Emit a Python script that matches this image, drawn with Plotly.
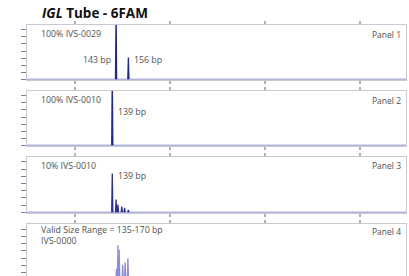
import plotly.graph_objects as go

# ---- data (bp sizes and relative peak heights) ----
panel_names = ["Panel 1", "Panel 2", "Panel 3", "Panel 4"]
sample_labels = ["100% IVS-0029", "100% IVS-0010", "10% IVS-0010", "Valid Size Range = 135-170 bp<br>IVS-0000"]
p1_bp = [143, 156]
p1_h = [1.3, 0.40]
p2_bp = [139]
p2_h = [1.3]
p3_bp = [139, 143, 145, 149, 152, 156]
p3_h = [0.70, 0.23, 0.14, 0.10, 0.08, 0.04]
p4_bp = [143.5, 145, 146.3, 150, 152.6, 155.5]
p4_h = [0.20, 0.62, 0.54, 0.27, 0.31, 0.39]
x_ticks = [100, 200, 300, 400]
x_range = [49, 449]

panels = [(p1_bp, p1_h), (p2_bp, p2_h), (p3_bp, p3_h), (p4_bp, p4_h)]
colors = ["#23278a", "#23278a", "#2a2e8f", "#8a8ed4"]
domains = [[0.781, 1.0], [0.518, 0.737], [0.251, 0.474], [0.0, 0.207]]
y_ranges = [[-0.015, 1.0], [-0.015, 1.0], [-0.015, 1.0], [0.071, 1.0]]


def spikes(bps, hs, w=0.6):
    xs, ys = [], []
    for b, h in sorted(zip(bps, hs)):
        xs += [b - w, b, b + w, None]
        ys += [0, h, 0, None]
    return xs, ys


FONT = "Open Sans, Lato, sans-serif"
fig = go.Figure()
border = "#c9c9d6"
for i, (bps, hs) in enumerate(panels):
    n = "" if i == 0 else str(i + 1)
    fig.add_trace(go.Scatter(x=x_range, y=[0, 0], mode="lines", line=dict(color="#8a90c8", width=1),
                             xaxis="x" + n, yaxis="y" + n, showlegend=False, hoverinfo="skip"))
    xs, ys = spikes(bps, hs)
    fig.add_trace(go.Scatter(x=xs, y=ys, mode="lines", line=dict(color=colors[i], width=1.3),
                             xaxis="x" + n, yaxis="y" + n, showlegend=False, hoverinfo="skip"))
    xa = dict(domain=[0, 1], range=x_range, anchor="y" + n, tickvals=x_ticks, showticklabels=False,
              ticks="outside", ticklen=3, tickwidth=2, tickcolor="#b0b0b8",
              showline=True, linecolor=border, linewidth=1, mirror="ticks" if i < 3 else False,
              side="bottom" if i < 3 else "top", showgrid=False, zeroline=False, fixedrange=True)
    ya = dict(domain=domains[i], range=y_ranges[i], anchor="x" + n, dtick=0.13, tick0=0.0,
              showticklabels=False, ticks="outside", ticklen=5, tickwidth=1, tickcolor="#80808c",
              showline=True, linecolor=border, linewidth=1, mirror=True,
              showgrid=False, zeroline=False, fixedrange=True)
    fig.layout["xaxis" + n] = xa
    fig.layout["yaxis" + n] = ya

    txt_font = dict(family=FONT, size=8.8, color="#505050")
    lab_y = [0.836, 0.836, 0.84, 0.77][i]
    fig.add_annotation(x=0.032, y=lab_y, xref=("x" + n + " domain"), yref=("y" + n + " domain"),
                       text=sample_labels[i], showarrow=False, xanchor="left", yanchor="middle",
                       align="left", font=txt_font)
    fig.add_annotation(x=0.992, y=[0.836, 0.836, 0.84, 0.865][i], xref=("x" + n + " domain"),
                       yref=("y" + n + " domain"), text=panel_names[i], showarrow=False,
                       xanchor="right", yanchor="middle", font=dict(family=FONT, size=8.5, color="#505050"))

lab_font = dict(family=FONT, size=8.8, color="#505050")
fig.add_annotation(x=p1_bp[0], y=0.36, xref="x", yref="y domain", text="143 bp", showarrow=False,
                   xanchor="right", xshift=-3, font=lab_font)
fig.add_annotation(x=p1_bp[1], y=0.36, xref="x", yref="y domain", text="156 bp", showarrow=False,
                   xanchor="left", xshift=4, font=lab_font)
fig.add_annotation(x=p2_bp[0], y=0.62, xref="x2", yref="y2 domain", text="139 bp", showarrow=False,
                   xanchor="left", xshift=4, font=lab_font)
fig.add_annotation(x=p3_bp[0], y=0.66, xref="x3", yref="y3 domain", text="139 bp", showarrow=False,
                   xanchor="left", xshift=4, font=lab_font)

fig.add_annotation(x=(40 - 27) / 379, y=1 + (25 - 13) / 251, xref="paper", yref="paper",
                   text="<b><i>IGL</i> Tube - 6FAM</b>", showarrow=False, xanchor="left", yanchor="middle",
                   font=dict(family=FONT, size=13.5, color="#111"))

fig.update_layout(width=409, height=276, margin=dict(l=27, r=3, t=25, b=0),
                  paper_bgcolor="white", plot_bgcolor="white")
fig.write_html("out.html", config={"displayModeBar": False},
               post_script="document.body.style.margin='0px';")
